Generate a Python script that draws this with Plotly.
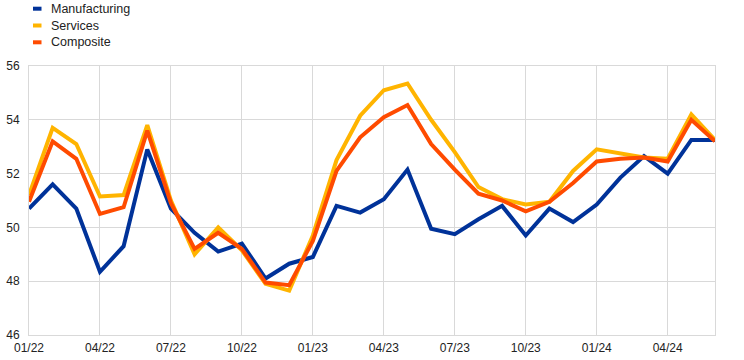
import plotly.graph_objects as go

months = ["01/22","02/22","03/22","04/22","05/22","06/22","07/22","08/22","09/22","10/22","11/22","12/22",
          "01/23","02/23","03/23","04/23","05/23","06/23","07/23","08/23","09/23","10/23","11/23","12/23",
          "01/24","02/24","03/24","04/24","05/24","06/24"]
manufacturing = [50.7,51.6,50.7,48.35,49.3,52.9,50.7,49.8,49.1,49.4,48.1,48.65,
                 48.9,50.8,50.55,51.05,52.15,49.95,49.75,50.3,50.8,49.7,50.7,50.2,
                 50.85,51.85,52.65,52.0,53.25,53.25]
services = [51.2,53.7,53.1,51.15,51.2,53.8,51.0,49.0,50.0,49.15,47.9,47.65,
            49.7,52.5,54.15,55.1,55.35,54.0,52.8,51.5,51.05,50.85,50.95,52.1,
            52.9,52.75,52.6,52.55,54.2,53.25]
composite = [50.95,53.2,52.55,50.5,50.75,53.6,50.9,49.2,49.8,49.2,47.95,47.85,
             49.5,52.1,53.35,54.1,54.55,53.1,52.15,51.25,51.0,50.6,50.95,51.65,
             52.45,52.55,52.6,52.45,54.0,53.2]
tick_labels = ["01/22","04/22","07/22","10/22","01/23","04/23","07/23","10/23","01/24","04/24"]

names = ["Manufacturing", "Services", "Composite"]
series = [manufacturing, services, composite]
colors = ["#003299", "#FFB400", "#FF4B00"]

W, H = 744, 360
ML, MR, MT, MB = 29, 29, 66, 25
PW, PH = W - ML - MR, H - MT - MB

def px_x(px):
    return (px - ML) / PW

def px_y(py):
    return (H - MB - py) / PH

fig = go.Figure()
for name, vals, col in zip(names, series, colors):
    fig.add_trace(go.Scatter(x=months, y=vals, mode="lines", name=name,
                             line=dict(color=col, width=4), showlegend=False))

# legend drawn as swatches + text
legend_rows = [8.7, 25.5, 42.3]
shapes = []
annotations = []
for name, col, yy in zip(names, colors, legend_rows):
    shapes.append(dict(type="line", xref="paper", yref="paper",
                       x0=px_x(33), x1=px_x(41.5), y0=px_y(yy), y1=px_y(yy),
                       line=dict(color=col, width=4)))
    annotations.append(dict(text=name, xref="paper", yref="paper",
                            x=px_x(48.5), y=px_y(yy), xanchor="left", yanchor="middle",
                            showarrow=False,
                            font=dict(size=12.5, color="#222",
                                      family="Liberation Sans, Arial, sans-serif")))

fig.update_layout(
    width=W, height=H,
    margin=dict(l=ML, r=MR, t=MT, b=MB, autoexpand=False),
    paper_bgcolor="white", plot_bgcolor="white",
    font=dict(family="Liberation Sans, Arial, sans-serif", size=12, color="#222"),
    showlegend=False,
    shapes=shapes, annotations=annotations,
    xaxis=dict(type="category", range=[0, len(months) - 1],
               tickmode="array", tickvals=tick_labels, ticktext=tick_labels,
               showgrid=True, gridcolor="#d9d9d9", gridwidth=1,
               showline=True, mirror=True, linecolor="#d9d9d9", linewidth=1,
               ticks="", zeroline=False, ticklabelstandoff=2),
    yaxis=dict(range=[46, 56], dtick=2, tick0=46,
               showgrid=True, gridcolor="#d9d9d9", gridwidth=1,
               showline=True, mirror=True, linecolor="#d9d9d9", linewidth=1,
               ticks="", zeroline=False, ticklabelstandoff=6),
)

fig.write_html("out.html",
               config={"displayModeBar": False},
               post_script="document.body.style.margin='0';document.body.style.padding='0';")
